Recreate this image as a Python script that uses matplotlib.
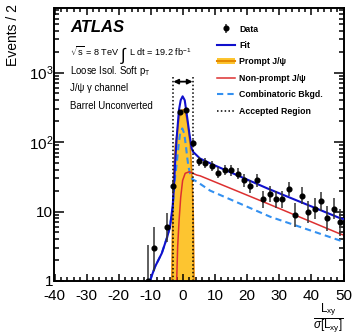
import numpy as np
import matplotlib
matplotlib.use("Agg")
import matplotlib.pyplot as plt
from matplotlib.lines import Line2D
from matplotlib.patches import Patch
from matplotlib.ticker import MultipleLocator, FixedLocator, FixedFormatter, LogLocator, NullFormatter

plt.rcParams['font.family'] = ['Liberation Sans', 'DejaVu Sans']
plt.rcParams['axes.unicode_minus'] = False
plt.rcParams['mathtext.fontset'] = 'custom'
plt.rcParams['mathtext.rm'] = 'Liberation Sans'
plt.rcParams['mathtext.it'] = 'Liberation Sans:italic'
plt.rcParams['mathtext.bf'] = 'Liberation Sans:bold'

# data points (bin centres, events per bin)
data_x = [-11, -9, -5, -3, -1, 1, 3, 5, 7, 9, 11, 13, 15, 17, 19, 21, 23, 25,
          27, 29, 31, 33, 35, 37, 39, 41, 43, 45, 47, 49]
data_y = [1, 3, 6, 23, 275, 285, 96, 53, 50, 45, 36, 40, 39, 35, 28, 23, 28, 15,
          18, 15, 15, 21, 9, 17, 10, 11, 14, 8, 11, 7]

# fit components
fit_x = [-10.8, -10.3, -8.7, -6.6, -4.9, -4.05, -3.2, -2.8, -2.5, -2.0, -1.25, -0.7,
         -0.1, 0.55, 1.15, 2.0, 2.7, 3.2, 5.3, 9.5, 26.2, 49.0, 50]
fit_y = [0.7, 1.0, 1.6, 2.5, 4.3, 6.0, 12, 22, 45, 107, 288, 400,
         455, 400, 258, 133, 81, 72, 58, 47, 21.6, 8.0, 7.8]

prompt_x = [-3.6, -3.45, -3.2, -2.95, -2.4, -1.7, -1.3, -0.85, -0.4, 0, 0.4, 0.8,
            1.3, 1.7, 2.3, 2.85, 3.2, 3.45, 3.6]
prompt_y = [0.1, 1, 9, 28, 86, 150, 210, 257, 285, 292, 285, 257,
            210, 150, 86, 28, 9, 1, 0.1]

nonprompt_x = [-2.1, -1.95, -1.65, -1.2, -0.7, -0.1, 0.7, 2.0, 4.3, 5.3, 26.2, 49.0, 50]
nonprompt_y = [0.6, 1.0, 3.1, 7.5, 16, 28, 35.5, 37.4, 33.5, 32.7, 13.1, 4.75, 4.6]

comb_x = [-10.8, -10.3, -8.7, -6.6, -4.9, -4.05, -3.2, -2.8, -2.4, -1.95, -1.4, -0.9,
          -0.2, 0.4, 0.95, 1.3, 1.7, 2.2, 3.0, 4.3, 8.45, 27.2, 49.1, 50]
comb_y = [0.7, 1.0, 1.6, 2.5, 4.3, 6.0, 11, 20, 33, 49, 86, 133,
          157, 133, 86, 61, 45, 35, 29, 27, 20, 8.4, 3.8, 3.7]

accepted = [-3, 3]

# poisson error bars (Gehrels approximation)
n = np.array(data_y, dtype=float)
err_up = np.sqrt(n + 0.75) + 1.0
err_lo = n - n * (1 - 1 / (9 * n) - 1 / (3 * np.sqrt(n))) ** 3

fig = plt.figure(figsize=(3.52, 3.36), dpi=100)
ax = fig.add_axes([54.5 / 352, 55 / 336, 289 / 352, 273 / 336])

ax.fill_between(prompt_x, prompt_y, 0.1, facecolor='#fdc530', edgecolor='none', zorder=1)
ax.plot(prompt_x, prompt_y, color='#e58a00', lw=1.2, zorder=1.5)
ax.plot(comb_x, comb_y, color='#3390f0', lw=1.5, ls=(0, (3, 2)), zorder=2)
ax.plot(nonprompt_x, nonprompt_y, color='#dd3030', lw=1.1, zorder=2.5)
ax.plot(fit_x, fit_y, color='#1010cc', lw=1.5, zorder=3)

for a in accepted:
    ax.plot([a, a], [1, 900], color='black', lw=1.1, ls=(0, (1, 1.5)), zorder=4)
ax.annotate('', xy=(accepted[1], 740), xytext=(accepted[0], 740),
            arrowprops=dict(arrowstyle='<|-|>', color='black', lw=1.3,
                            mutation_scale=7, shrinkA=0, shrinkB=0), zorder=4)

eb = ax.errorbar(data_x, data_y, yerr=[err_lo, err_up], fmt='o', color='black',
                 ecolor='#333333', elinewidth=1.1, ms=3.4, capsize=0, zorder=5)

ax.set_yscale('log')
ax.set_xlim(-40, 50)
ax.set_ylim(1, 8500)

ax.xaxis.set_major_locator(MultipleLocator(10))
ax.xaxis.set_minor_locator(MultipleLocator(2))
ax.yaxis.set_major_locator(FixedLocator([1, 10, 100, 1000]))
ax.yaxis.set_major_formatter(FixedFormatter(['1', '10', r'$\mathdefault{10^{2}}$',
                                             r'$\mathdefault{10^{3}}$']))
ax.yaxis.set_minor_locator(LogLocator(base=10, subs=np.arange(2, 10)))
ax.yaxis.set_minor_formatter(NullFormatter())

ax.tick_params(which='both', direction='in', top=True, right=True, width=1.1,
               labelsize=11)
ax.tick_params(axis='x', which='major', length=5, pad=6)
ax.tick_params(axis='x', which='minor', length=2.6)
ax.tick_params(axis='y', which='major', length=7, pad=1)
ax.tick_params(axis='y', which='minor', length=3.5)
for s in ax.spines.values():
    s.set_linewidth(1.4)

fig.text(13 / 352, 1 - 4 / 336, 'Events / 2', rotation=90, ha='center', va='top',
         fontsize=10)
fig.text(313 / 352, 1 - 319 / 336, r'$\frac{\mathrm{L}_{\mathrm{xy}}}{\sigma[\mathrm{L}_{\mathrm{xy}}]}$',
         ha='left', va='center', fontsize=12)

# labels in upper left
fig.text(70 / 352, 1 - 32 / 336, 'ATLAS', fontsize=12, fontweight='bold',
         fontstyle='italic', ha='left', va='baseline')
fig.text(70 / 352, 1 - 56 / 336, r'$\sqrt{\mathrm{s}}$ = 8 TeV', fontsize=6.6,
         ha='left', va='baseline')
fig.text(120 / 352, 1 - 60 / 336, r'$\int$', fontsize=12, ha='left', va='baseline')
fig.text(129 / 352, 1 - 56 / 336, r'L dt = 19.2 fb$^{\mathrm{-1}}$', fontsize=6.6,
         ha='left', va='baseline')
fig.text(70 / 352, 1 - 74 / 336, r'Loose Isol. Soft p$_{\mathrm{T}}$', fontsize=6.9,
         ha='left', va='baseline')
fig.text(70 / 352, 1 - 91 / 336, 'J/ψ γ channel', fontsize=6.9, ha='left', va='baseline')
fig.text(70 / 352, 1 - 109 / 336, 'Barrel Unconverted', fontsize=6.9, ha='left',
         va='baseline')

# legend
h_fit = Line2D([], [], color='#1010cc', lw=1.5)
h_prompt = (Patch(facecolor='#fdc530', edgecolor='none'),
            Line2D([], [], color='#e58a00', lw=1.5))
h_np = Line2D([], [], color='#dd3030', lw=1.1)
h_comb = Line2D([], [], color='#3390f0', lw=1.5, ls=(0, (3, 2)))
h_acc = Line2D([], [], color='black', lw=1.1, ls=(0, (1, 1.5)))
leg = ax.legend([eb, h_fit, h_prompt, h_np, h_comb, h_acc],
                ['Data', 'Fit', 'Prompt J/ψ', 'Non-prompt J/ψ', 'Combinatoric Bkgd.',
                 'Accepted Region'],
                loc='upper left', bbox_to_anchor=(217 / 352, 1 - 24.5 / 336),
                bbox_transform=fig.transFigure, frameon=False,
                prop={'weight': 'bold', 'size': 6.3}, handlelength=2.0,
                handletextpad=0.5, labelspacing=0.85, borderpad=0, borderaxespad=0)

fig.savefig('out.png', dpi=100)
